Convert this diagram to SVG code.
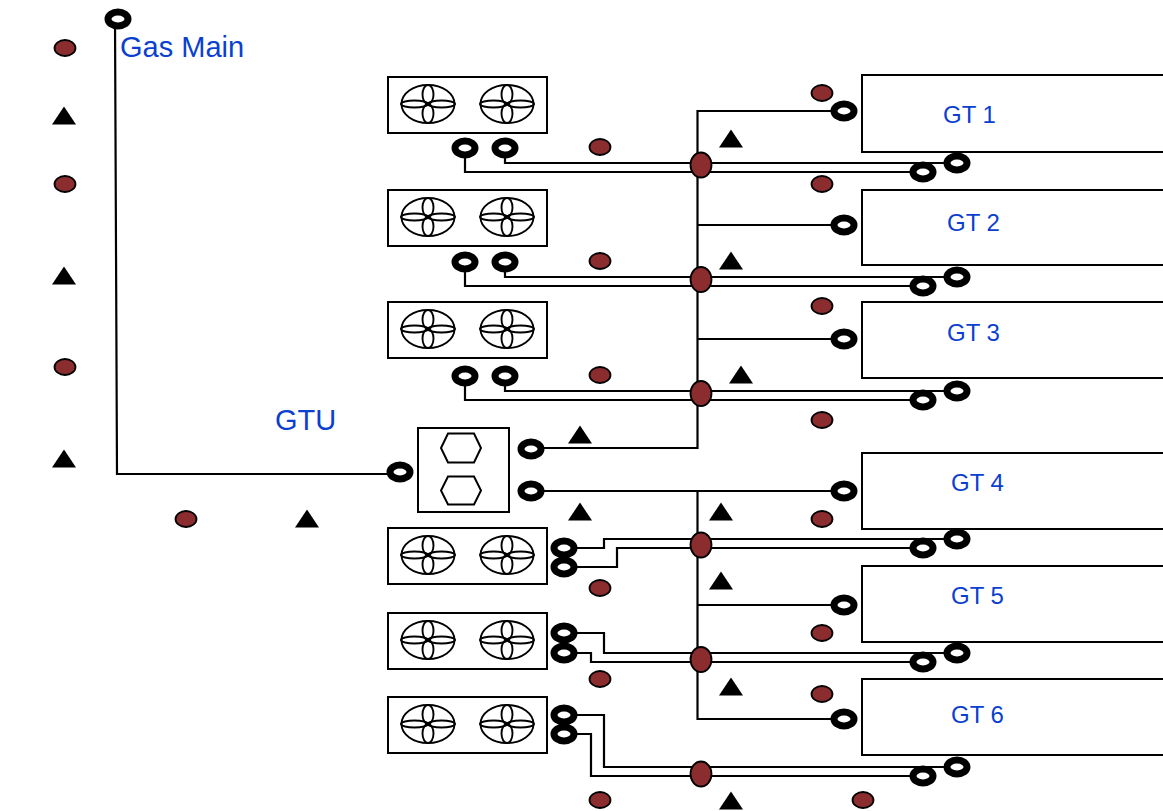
<svg xmlns="http://www.w3.org/2000/svg" xmlns:xlink="http://www.w3.org/1999/xlink" width="1163" height="811" viewBox="0 0 1163 811">
<style>
.box{fill:#fff;stroke:#000;stroke-width:2}
.thin{fill:none;stroke:#000;stroke-width:1.9}
.hex{fill:none;stroke:#000;stroke-width:2}
.ln{fill:none;stroke:#000;stroke-width:2.2;stroke-linejoin:miter}
.ring{fill:#fff;stroke:#000;stroke-width:7}
.red{fill:#8b2c2f;stroke:#000;stroke-width:1.8}
.lab{font-family:"Liberation Sans",Arial,sans-serif;fill:#0b3fd0}
.big{font-size:29px}
.gt{font-size:24px}
</style>
<defs>
<g id="fan">
<ellipse class="thin" rx="26.500" ry="19"/>
<ellipse class="thin" cx="-13.500" rx="13.500" ry="3.500"/>
<ellipse class="thin" cx="13.500" rx="13.500" ry="3.500"/>
<ellipse class="thin" cy="-9.500" rx="5.500" ry="9.500"/>
<ellipse class="thin" cy="9.500" rx="5.500" ry="9.500"/>
</g>
<g id="cooler">
<rect class="box" width="159" height="56"/>
<use xlink:href="#fan" href="#fan" x="40" y="27"/>
<use xlink:href="#fan" href="#fan" x="119" y="27"/>
</g>
<ellipse id="r" class="ring" rx="10" ry="7"/>
<ellipse id="d" class="red" rx="10.500" ry="8"/>
<ellipse id="j" class="red" rx="10.500" ry="12.500"/>
<path id="t" d="M0-9.500 12 8.500H-12Z" fill="#000"/>
</defs>
<g id="connectors">
<path class="ln" d="M115 19 117 474H400"/>
<path class="ln" d="M531 448H697.500V111H844M697.500 225H844M697.500 339H844"/>
<path class="ln" d="M531 491H844M697.500 491V719H844M697.500 605H844"/>
<path class="ln" d="M465 148V172H923M505 148V163H957"/>
<path class="ln" d="M465 262V286H923M505 262V277H957"/>
<path class="ln" d="M465 376V400H923M505 376V391H957"/>
<path class="ln" d="M565 548H604V539H957M565 567H617V548H923"/>
<path class="ln" d="M565 633H604V653H957M565 653H591V662H923"/>
<path class="ln" d="M565 715H604V767H957M565 734H591V776H923"/>
</g>
<g id="cooler1"><use xlink:href="#cooler" href="#cooler" x="388" y="77"/></g>
<g id="cooler2"><use xlink:href="#cooler" href="#cooler" x="388" y="190"/></g>
<g id="cooler3"><use xlink:href="#cooler" href="#cooler" x="388" y="302"/></g>
<g id="cooler4"><use xlink:href="#cooler" href="#cooler" x="388" y="528"/></g>
<g id="cooler5"><use xlink:href="#cooler" href="#cooler" x="388" y="613"/></g>
<g id="cooler6"><use xlink:href="#cooler" href="#cooler" x="388" y="697"/></g>
<g id="gtu">
<rect class="box" x="418" y="428" width="91" height="84"/>
<path class="hex" d="M448 433.500H474L481 448 474 462.500H448L441 448Z"/>
<path class="hex" d="M448 476.500H474L481 490.500 474 504.500H448L441 490.500Z"/>
<text class="lab big" x="275" y="430">GTU</text>
</g>
<g id="gas-main"><text class="lab big" x="120" y="57">Gas Main</text></g>
<g id="gt1"><rect class="box" x="862" y="75" width="320" height="77"/><text class="lab gt" x="943" y="123">GT 1</text></g>
<g id="gt2"><rect class="box" x="862" y="190" width="320" height="75"/><text class="lab gt" x="947" y="231">GT 2</text></g>
<g id="gt3"><rect class="box" x="862" y="302" width="320" height="76"/><text class="lab gt" x="947" y="341">GT 3</text></g>
<g id="gt4"><rect class="box" x="862" y="453" width="320" height="76"/><text class="lab gt" x="951" y="491">GT 4</text></g>
<g id="gt5"><rect class="box" x="862" y="566" width="320" height="76"/><text class="lab gt" x="951" y="604">GT 5</text></g>
<g id="gt6"><rect class="box" x="862" y="679" width="320" height="76"/><text class="lab gt" x="951" y="723">GT 6</text></g>
<g id="rings">
<use href="#r" x="118" y="19"/><use href="#r" x="400" y="472"/>
<use href="#r" x="531" y="449"/><use href="#r" x="531" y="491"/>
<use href="#r" x="465" y="148"/><use href="#r" x="505" y="148"/>
<use href="#r" x="465" y="262"/><use href="#r" x="505" y="262"/>
<use href="#r" x="465" y="376"/><use href="#r" x="505" y="376"/>
<use href="#r" x="564" y="548"/><use href="#r" x="564" y="567"/>
<use href="#r" x="564" y="633"/><use href="#r" x="564" y="653"/>
<use href="#r" x="564" y="715"/><use href="#r" x="564" y="734"/>
<use href="#r" x="844" y="111"/><use href="#r" x="844" y="225"/><use href="#r" x="844" y="339"/>
<use href="#r" x="844" y="491"/><use href="#r" x="844" y="605"/><use href="#r" x="844" y="719"/>
<use href="#r" x="923" y="172"/><use href="#r" x="957" y="163"/>
<use href="#r" x="923" y="286"/><use href="#r" x="957" y="277"/>
<use href="#r" x="923" y="400"/><use href="#r" x="957" y="391"/>
<use href="#r" x="923" y="548"/><use href="#r" x="957" y="539"/>
<use href="#r" x="923" y="662"/><use href="#r" x="957" y="653"/>
<use href="#r" x="923" y="776"/><use href="#r" x="957" y="767"/>
</g>
<g id="junctions">
<use href="#j" x="701" y="165"/><use href="#j" x="701" y="279.500"/><use href="#j" x="701" y="393.500"/>
<use href="#j" x="701" y="545"/><use href="#j" x="701" y="659.500"/><use href="#j" x="701" y="774"/>
</g>
<g id="sensors">
<use href="#d" x="65" y="48"/><use href="#d" x="65" y="184"/><use href="#d" x="65" y="367"/><use href="#d" x="186" y="519"/>
<use href="#d" x="600" y="147"/><use href="#d" x="600" y="261"/><use href="#d" x="600" y="375"/>
<use href="#d" x="822" y="93"/><use href="#d" x="822" y="184"/><use href="#d" x="822" y="306"/><use href="#d" x="822" y="420"/>
<use href="#d" x="822" y="519"/><use href="#d" x="600" y="588"/><use href="#d" x="822" y="633"/>
<use href="#d" x="600" y="679"/><use href="#d" x="822" y="694"/><use href="#d" x="600" y="800"/><use href="#d" x="863" y="800"/>
</g>
<g id="triangles">
<use href="#t" x="64" y="116"/><use href="#t" x="64" y="276"/><use href="#t" x="64" y="459"/><use href="#t" x="307" y="519"/>
<use href="#t" x="731" y="139"/><use href="#t" x="731" y="261"/><use href="#t" x="741" y="375"/>
<use href="#t" x="580" y="435"/><use href="#t" x="580" y="512"/><use href="#t" x="721" y="512"/>
<use href="#t" x="721" y="581"/><use href="#t" x="731" y="687"/><use href="#t" x="731" y="801"/>
</g>
</svg>
